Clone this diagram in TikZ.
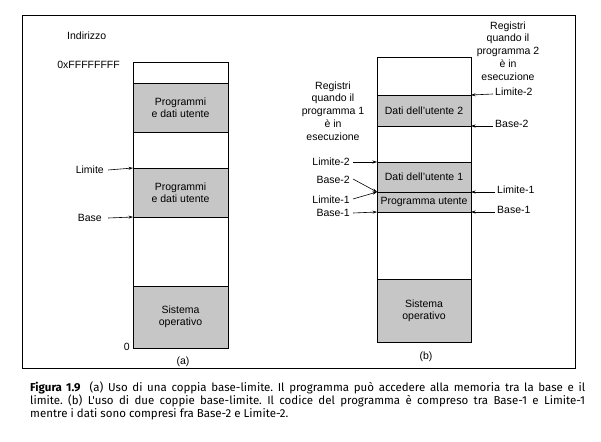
\documentclass[tikz,border=0pt]{standalone}
\usepackage{fontspec}
\setmainfont{Liberation Sans}
\newfontfamily\capfont{Fira Sans}
\usetikzlibrary{arrows.meta}
\begin{document}
\frenchspacing
\begin{tikzpicture}[x=1pt,y=-1pt,
  seg/.style={draw, line width=0.8pt, anchor=north west, inner sep=0pt, outer sep=0pt, minimum width=95pt, fill=white},
  gseg/.style={seg, fill=gray!45},
  lbl/.style={font=\fontsize{10.5}{12}\selectfont, inner sep=0pt, align=center},
  arr/.style={-{Stealth[length=4.5pt,width=3pt]}, line width=0.6pt},
  captxt/.style={font=\capfont\fontsize{11.5}{12}\selectfont, anchor=west, inner sep=0pt}]
\useasboundingbox (0,0) rectangle (601,441);
% frame
\node[draw, line width=0.8pt, minimum width=553pt, minimum height=353pt, anchor=north west, inner sep=0pt] (frame) at (22,15) {};
% ---------- panel (a)
\node[seg, minimum height=21pt] (a1) at (133,62) {};
\node[gseg, minimum height=49pt] (a2) at (133,83) {};
\node[seg, minimum height=36pt] (a3) at (133,132) {};
\node[gseg, minimum height=49pt] (a4) at (133,168) {};
\node[seg, minimum height=69pt] (a5) at (133,217) {};
\node[gseg, minimum height=62pt] (a6) at (133,286) {};
\node[lbl] (ta2) at (a2.center) {Programmi\\e dati utente};
\node[lbl] (ta4) at (a4.center) {Programmi\\e dati utente};
\node[lbl] (ta6) at (a6.center) {Sistema\\operativo};
\node[lbl, anchor=west] (ind) at (67,36) {Indirizzo};
\node[lbl, anchor=east] (ff) at (120,65) {0xFFFFFFFF};
\node[lbl, anchor=east] (zero) at (130,347) {0};
\node[lbl] (capa) at (183,362) {(a)};
\node[lbl, anchor=east] (lim) at (104,170) {Limite};
\node[lbl, anchor=east] (bas) at (102,218) {Base};
\draw[arr] (lim.east) ++(4,0) coordinate (limS) (limS) -- (a4.north west);
\draw[arr] (bas.east) ++(6,0) coordinate (basS) (basS) -- (a5.north west);
% ---------- panel (b)
\node[seg, minimum width=94pt, minimum height=38pt] (b1) at (377,57) {};
\node[gseg, minimum width=94pt, minimum height=31pt] (b2) at (377,95) {};
\node[seg, minimum width=94pt, minimum height=36pt] (b3) at (377,126) {};
\node[gseg, minimum width=94pt, minimum height=30pt] (b4) at (377,162) {};
\node[gseg, minimum width=94pt, minimum height=20pt] (b5) at (377,192) {};
\node[seg, minimum width=94pt, minimum height=67pt] (b6) at (377,212) {};
\node[gseg, minimum width=94pt, minimum height=63pt] (b7) at (377,279) {};
\node[lbl] (tb2) at (b2.center) {Dati dell'utente 2};
\node[lbl] (tb4) at (b4.center) {Dati dell'utente 1};
\node[lbl] (tb5) at (b5.center) {Programma utente};
\node[lbl] (tb7) at (b7.center) {Sistema\\operativo};
\node[lbl] (capb) at (426,357) {(b)};
\node[lbl, font=\fontsize{10.5}{12.8}\selectfont] (reg1) at (333,111) {Registri\\quando il\\programma 1\\è in\\esecuzione};
\node[lbl, font=\fontsize{10.5}{12.8}\selectfont] (reg2) at (508,51) {Registri\\quando il\\programma 2\\è in\\esecuzione};
% left registers
\node[lbl, anchor=east] (l2) at (350,162) {Limite-2};
\node[lbl, anchor=east] (b2l) at (350,180) {Base-2};
\node[lbl, anchor=east] (l1) at (350,200) {Limite-1};
\node[lbl, anchor=east] (b1l) at (350,213) {Base-1};
\draw[arr] (l2.east) ++(3,0) coordinate (l2S) (l2S) -- (b4.north west);
\draw[arr] (b2l.east) ++(3,-1) coordinate (b2S) (b2S) -- (b5.north west);
\draw[arr] (l1.east) ++(3,-1) coordinate (l1S) (l1S) -- (b5.north west);
\draw[arr] (b1l.east) ++(3,0) coordinate (b1S) (b1S) -- (b6.north west);
% right registers
\node[lbl, anchor=west] (r2) at (495,92) {Limite-2};
\node[lbl, anchor=west] (rb2) at (495,124) {Base-2};
\node[lbl, anchor=west] (r1) at (497,190) {Limite-1};
\node[lbl, anchor=west] (rb1) at (497,210) {Base-1};
\draw[arr] (r2.west) ++(-2,2) coordinate (r2S) (r2S) -- (b2.north east);
\draw[arr] (rb2.west) ++(-2,2) coordinate (rb2S) (rb2S) -- (b3.north east);
\draw[arr] (r1.west) ++(-2,2) coordinate (r1S) (r1S) -- (b5.north east);
\draw[arr] (rb1.west) ++(-2,2) coordinate (rb1S) (rb1S) -- (b6.north east);
% ---------- caption
\node[captxt] (c1) at (30,388) {\hbox to 555pt{\textbf{Figura 1.9}\hskip 0.8em (a) Uso di una coppia base-limite. Il programma può accedere alla memoria tra la base e il}};
\node[captxt] (c2) at (30,401) {\hbox to 555pt{limite. (b) L'uso di due coppie base-limite. Il codice del programma è compreso tra Base-1 e Limite-1}};
\node[captxt] (c3) at (30,414) {mentre i dati sono compresi fra Base-2 e Limite-2.};
\end{tikzpicture}
\end{document}
